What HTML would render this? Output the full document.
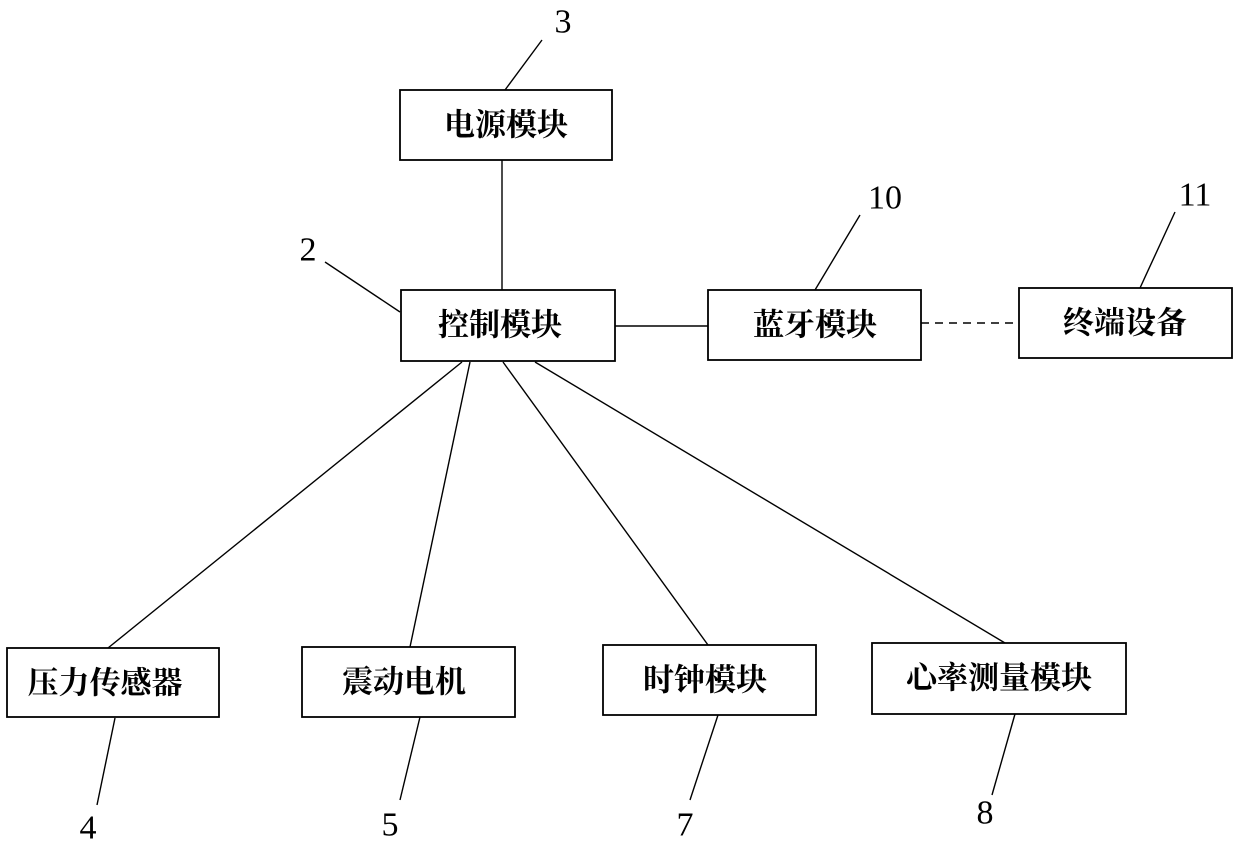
<!DOCTYPE html>
<html><head><meta charset="utf-8"><style>
html,body{margin:0;padding:0;background:#fff;}
svg{display:block;}
.b{fill:#fff;stroke:#000;stroke-width:1.8;}
.t{font-family:"Liberation Serif","Noto Serif CJK SC","Noto Sans CJK SC",serif;font-size:31px;font-weight:bold;text-anchor:middle;dominant-baseline:central;}
.n{font-family:"Liberation Serif",serif;font-size:34px;text-anchor:middle;dominant-baseline:central;}
line{stroke:#000;stroke-width:1.4;}
</style></head><body>
<svg width="1240" height="848" viewBox="0 0 1240 848">
<line x1="502" y1="160" x2="502" y2="290"/>
<line x1="615" y1="326" x2="708" y2="326"/>
<line x1="921" y1="323" x2="1019" y2="323" stroke-dasharray="8,6"/>
<line x1="462" y1="362" x2="108" y2="648"/>
<line x1="470" y1="362" x2="410" y2="647"/>
<line x1="503" y1="362" x2="708" y2="645"/>
<line x1="535" y1="362" x2="1005" y2="643"/>
<line x1="542" y1="40" x2="505" y2="90"/>
<line x1="325" y1="262" x2="400" y2="312"/>
<line x1="860" y1="215" x2="815" y2="290"/>
<line x1="1175" y1="212" x2="1140" y2="288"/>
<line x1="115" y1="718" x2="97" y2="805"/>
<line x1="420" y1="717" x2="400" y2="800"/>
<line x1="718" y1="715" x2="690" y2="800"/>
<line x1="1015" y1="714" x2="992" y2="795"/>
<rect class="b" x="400" y="90" width="212" height="70"/><text class="t" x="506" y="125">电源模块</text>
<rect class="b" x="401" y="290" width="214" height="71"/><text class="t" x="500" y="325">控制模块</text>
<rect class="b" x="708" y="290" width="213" height="70"/><text class="t" x="815" y="325">蓝牙模块</text>
<rect class="b" x="1019" y="288" width="213" height="70"/><text class="t" x="1125" y="323">终端设备</text>
<rect class="b" x="7" y="648" width="212" height="69"/><text class="t" x="105" y="683">压力传感器</text>
<rect class="b" x="302" y="647" width="213" height="70"/><text class="t" x="404" y="682">震动电机</text>
<rect class="b" x="603" y="645" width="213" height="70"/><text class="t" x="705" y="680">时钟模块</text>
<rect class="b" x="872" y="643" width="254" height="71"/><text class="t" x="999" y="678">心率测量模块</text>
<text class="n" x="563" y="22">3</text>
<text class="n" x="308" y="250">2</text>
<text class="n" x="885" y="198">10</text>
<text class="n" x="1195" y="195">11</text>
<text class="n" x="88" y="828">4</text>
<text class="n" x="390" y="825">5</text>
<text class="n" x="685" y="825">7</text>
<text class="n" x="985" y="813">8</text>
</svg>
</body></html>
